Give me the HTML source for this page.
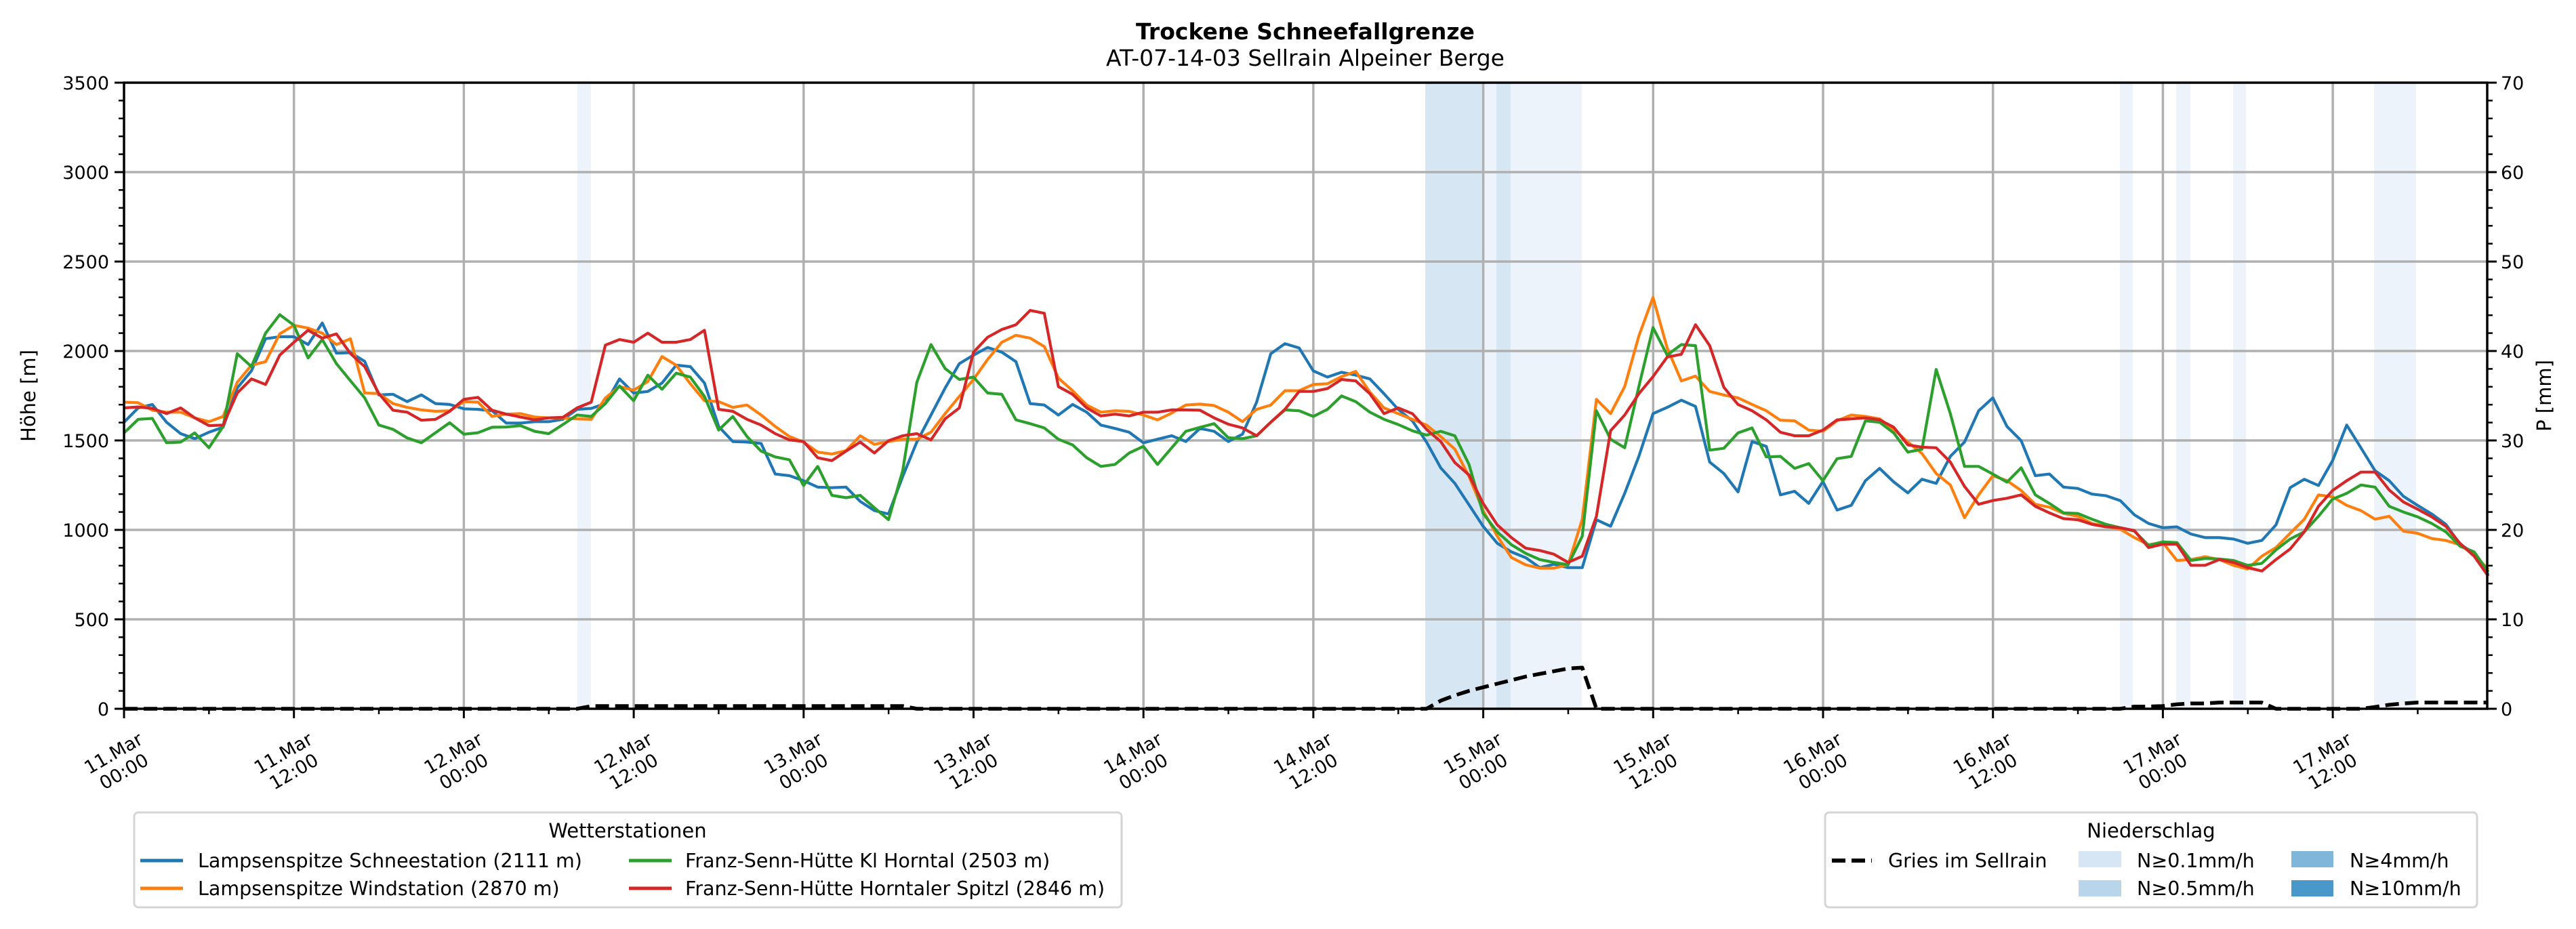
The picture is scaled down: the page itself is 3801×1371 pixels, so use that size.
<!DOCTYPE html>
<html><head><meta charset="utf-8">
<style>
html,body{margin:0;padding:0;background:#fff;}
svg{display:block;font-family:"DejaVu Sans","Liberation Sans",sans-serif;}
</style></head>
<body>
<svg id="s" width="3801" height="1371" viewBox="0 0 3801 1371" xmlns="http://www.w3.org/2000/svg">
<rect width="3801" height="1371" fill="#fff"/>
<g id="bands"></g>
<g id="grid" stroke="#b0b0b0" stroke-width="3.5"></g>
<g id="series" fill="none" stroke-linejoin="round"></g>
<g id="axes" stroke="#000"></g>
<g id="labels" font-size="27" fill="#000"></g>
<text x="1926" y="58" text-anchor="middle" font-size="33" font-weight="bold">Trockene Schneefallgrenze</text>
<text x="1926" y="97" text-anchor="middle" font-size="33">AT-07-14-03 Sellrain Alpeiner Berge</text>
<text transform="translate(52,584) rotate(-90)" text-anchor="middle" font-size="29">Höhe [m]</text>
<text transform="translate(3764,584) rotate(-90)" text-anchor="middle" font-size="29">P [mm]</text>

<!-- Legend 1 -->
<rect x="198" y="1199" width="1457" height="140" rx="6" fill="#fff" stroke="#d5d5d5" stroke-width="3"/>
<text x="926" y="1236" text-anchor="middle" font-size="29">Wetterstationen</text>
<line x1="207" y1="1270" x2="270" y2="1270" stroke="#1f77b4" stroke-width="5"/>
<text x="292" y="1280" font-size="28.5">Lampsenspitze Schneestation (2111 m)</text>
<line x1="207" y1="1311" x2="270" y2="1311" stroke="#ff7f0e" stroke-width="5"/>
<text x="292" y="1321" font-size="28.5">Lampsenspitze Windstation (2870 m)</text>
<line x1="928" y1="1270" x2="991" y2="1270" stroke="#2ca02c" stroke-width="5"/>
<text x="1011" y="1280" font-size="28.5">Franz-Senn-Hütte Kl Horntal (2503 m)</text>
<line x1="928" y1="1311" x2="991" y2="1311" stroke="#d62728" stroke-width="5"/>
<text x="1011" y="1321" font-size="28.5">Franz-Senn-Hütte Horntaler Spitzl (2846 m)</text>

<!-- Legend 2 -->
<rect x="2693" y="1199" width="962" height="140" rx="6" fill="#fff" stroke="#d5d5d5" stroke-width="3"/>
<text x="3174" y="1236" text-anchor="middle" font-size="29">Niederschlag</text>
<line x1="2703" y1="1270" x2="2762" y2="1270" stroke="#000" stroke-width="6" stroke-dasharray="20,9"/>
<text x="2786" y="1280" font-size="28.5">Gries im Sellrain</text>
<rect x="3067" y="1256" width="63" height="24" fill="#d6e6f4"/>
<text x="3153" y="1280" font-size="28.5">N≥0.1mm/h</text>
<rect x="3067" y="1299" width="63" height="24" fill="#b9d5ea"/>
<text x="3153" y="1321" font-size="28.5">N≥0.5mm/h</text>
<rect x="3381" y="1256" width="62" height="24" fill="#80b6da"/>
<text x="3467" y="1280" font-size="28.5">N≥4mm/h</text>
<rect x="3381" y="1299" width="62" height="24" fill="#4a98c9"/>
<text x="3467" y="1321" font-size="28.5">N≥10mm/h</text>
</svg>
<script>
(function(){
var NS="http://www.w3.org/2000/svg";
function el(p,t,a,txt){var e=document.createElementNS(NS,t);for(var k in a)e.setAttribute(k,a[k]);if(txt!=null)e.textContent=txt;document.getElementById(p).appendChild(e);return e;}
var L=183,R=3670,T=122,B=1046,HW=20.89;
function X(h){return L+h*HW;}
function Y(v){return B-v*0.264;}
function YP(mm){return B-mm*13.2;}
var bands=[[852,872,"#edf3fa"],[2103,2188,"#d6e6f3"],[2188,2208,"#edf3fa"],[2208,2229,"#d6e6f3"],[2229,2334,"#edf3fa"],[3128,3147,"#edf3fa"],[3211,3232,"#edf3fa"],[3295,3314,"#edf3fa"],[3503,3565,"#edf3fa"]];
bands.forEach(function(b){el("bands","rect",{x:b[0],y:T,width:b[1]-b[0],height:B-T,fill:b[2]});});
for(var i=1;i<=13;i++){var x=L+i*250.7;el("grid","line",{x1:x,y1:T,x2:x,y2:B});}
for(var v=500;v<3500;v+=500){var y=Y(v);el("grid","line",{x1:L,y1:y,x2:R,y2:y});}
var blue=[1602,1682,1701,1602,1538,1510,1546,1574,1793,1889,2069,2080,2080,2036,2157,1988,1991,1942,1754,1758,1717,1755,1706,1701,1677,1674,1666,1597,1597,1605,1605,1618,1674,1679,1706,1844,1765,1774,1821,1921,1913,1821,1578,1494,
1491,1483,1312,1303,1275,1239,1236,1239,1159,1108,1089,1299,1491,1642,1793,1929,1977,2020,1993,1940,1706,1698,1642,1701,1658,1586,1567,1546,1487,1507,1526,1494,1567,1551,1494,1535,1714,1985,2041,2017,1889,1854,
1881,1865,1844,1761,1674,1610,1491,1347,1260,1140,1020,925,877,845,789,808,789,789,1057,1020,1204,1411,1650,1685,1725,1690,1379,1315,1212,1494,1467,1196,1216,1148,1271,1111,1137,1275,1344,1268,1207,1283,1260,
1411,1491,1666,1738,1578,1499,1303,1312,1239,1232,1200,1191,1164,1084,1036,1012,1017,977,957,957,949,925,941,1028,1236,1283,1248,1387,1586,1459,1331,1275,1188,1137,1089,1031,920,869,749];
var orange=[1714,1711,1669,1658,1658,1626,1605,1634,1825,1921,1940,2096,2144,2128,2100,2036,2068,1765,1762,1706,1685,1671,1663,1666,1717,1714,1634,1647,1650,1631,1626,1626,1621,1618,1738,1801,1781,1829,1969,1921,1817,1722,1717,1685,
1698,1642,1578,1522,1491,1435,1424,1443,1526,1478,1494,1507,1507,1546,1650,1746,1841,1953,2049,2088,2072,2025,1849,1778,1698,1658,1666,1663,1642,1615,1653,1698,1703,1695,1658,1605,1674,1698,1778,1778,1813,1817,
1857,1886,1770,1682,1650,1618,1586,1522,1451,1299,1108,965,845,805,786,786,805,1060,1730,1650,1801,2084,2300,2017,1833,1860,1774,1754,1738,1701,1666,1613,1610,1558,1551,1610,1642,1634,1621,1562,1491,1427,1315,
1251,1068,1196,1303,1275,1220,1143,1127,1092,1076,1036,1020,1004,957,917,930,829,834,850,834,802,781,853,901,981,1060,1196,1185,1137,1108,1060,1076,993,981,952,941,917,860,780];
var green=[1542,1618,1623,1487,1491,1542,1459,1578,1985,1913,2100,2203,2144,1961,2064,1929,1833,1738,1586,1562,1514,1487,1543,1599,1535,1543,1574,1575,1583,1551,1538,1589,1642,1634,1706,1805,1722,1865,1786,1876,1854,1746,1558,1634,
1522,1440,1408,1392,1248,1355,1193,1180,1193,1124,1057,1331,1825,2036,1902,1841,1854,1765,1758,1615,1594,1570,1507,1475,1403,1355,1366,1430,1467,1366,1459,1551,1573,1594,1515,1510,1526,1602,1671,1666,1634,1674,
1749,1717,1658,1618,1589,1554,1530,1551,1526,1366,1092,989,917,869,834,818,805,965,1666,1507,1459,1801,2131,1977,2036,2030,1446,1456,1542,1570,1408,1411,1344,1371,1275,1398,1411,1610,1602,1542,1435,1451,1897,
1650,1355,1355,1312,1267,1347,1196,1148,1095,1092,1060,1031,1012,993,913,933,929,829,840,837,829,802,813,888,949,989,1076,1172,1204,1251,1239,1132,1100,1073,1036,989,909,877,765];
var red=[1682,1687,1679,1650,1682,1626,1583,1586,1765,1844,1813,1977,2049,2116,2072,2096,1985,1913,1762,1669,1658,1613,1618,1663,1730,1741,1669,1647,1631,1615,1626,1629,1682,1714,2033,2064,2049,2100,2049,2049,2064,2116,1674,1663,
1618,1586,1538,1503,1494,1403,1387,1440,1491,1430,1499,1526,1538,1503,1621,1682,1993,2077,2120,2147,2227,2211,1801,1758,1682,1637,1647,1637,1658,1658,1671,1671,1669,1626,1591,1570,1526,1602,1674,1774,1774,1790,
1841,1833,1761,1650,1682,1650,1562,1494,1376,1307,1148,1028,957,898,885,864,818,853,1076,1554,1642,1761,1857,1966,1982,2147,2030,1797,1701,1666,1615,1546,1526,1526,1558,1615,1621,1626,1615,1574,1475,1462,1459,
1379,1243,1143,1164,1177,1196,1132,1095,1063,1057,1031,1017,1012,996,901,920,920,802,802,834,818,789,770,834,893,989,1132,1220,1275,1323,1323,1223,1156,1116,1073,1020,925,853,741];
function poly(arr,col){var p=[];for(var h=0;h<arr.length;h++){p.push(X(h).toFixed(1)+","+Y(arr[h]).toFixed(1));}
el("series","polyline",{points:p.join(" "),stroke:col,"stroke-width":4.2});}
poly(blue,"#1f77b4");poly(orange,"#ff7f0e");poly(green,"#2ca02c");poly(red,"#d62728");
var pr=[];for(var h=0;h<=167;h++)pr.push(0);
for(h=33;h<=55;h++)pr[h]=0.3;
var seg={93:0.9,94:1.5,95:2.0,96:2.4,97:2.8,98:3.2,99:3.6,100:3.9,101:4.2,102:4.5,103:4.6,142:0.25,143:0.25,144:0.3,145:0.5,146:0.6,147:0.6,148:0.7,149:0.7,150:0.7,151:0.7,159:0.2,160:0.45,161:0.6,162:0.7,163:0.7,164:0.7,165:0.7,166:0.7,167:0.7};
for(var k in seg)pr[+k]=seg[k];
var pp=[];for(h=0;h<=167;h++)pp.push(X(h).toFixed(1)+","+YP(pr[h]).toFixed(1));
el("series","polyline",{points:pp.join(" "),stroke:"#000","stroke-width":5.5,"stroke-dasharray":"20,9"});
el("axes","rect",{x:L,y:T,width:R-L,height:B-T,fill:"none","stroke-width":3.5});
for(v=0;v<=3500;v+=100){var y=Y(v),maj=(v%500==0);el("axes","line",{x1:L,y1:y,x2:L-(maj?14:8),y2:y,"stroke-width":maj?3:2.5});
if(maj)el("labels","text",{x:L-22,y:y+10,"text-anchor":"end"},String(v));}
for(var mm=0;mm<=70;mm+=2){var y2=YP(mm),mj=(mm%10==0);el("axes","line",{x1:R,y1:y2,x2:R+(mj?14:8),y2:y2,"stroke-width":mj?3:2.5});
if(mj)el("labels","text",{x:R+20,y:y2+10,"text-anchor":"start"},String(mm));}
var days=["11","11","12","12","13","13","14","14","15","15","16","16","17","17"];
for(i=0;i<=27;i++){var x=L+i*125.35;if(x>R)break;var mj2=(i%2==0);el("axes","line",{x1:x,y1:B,x2:x,y2:B+(mj2?14:8),"stroke-width":mj2?3:2.5});}
for(i=0;i<14;i++){var x=L+i*250.7,cx=x-8,cy=1125;
var t=el("labels","text",{transform:"translate("+cx+","+cy+") rotate(-30)","text-anchor":"middle","font-size":"27"});
var a=document.createElementNS(NS,"tspan");a.setAttribute("x",0);a.setAttribute("y",-6);a.textContent=days[i]+".Mar";t.appendChild(a);
var b=document.createElementNS(NS,"tspan");b.setAttribute("x",0);b.setAttribute("y",25);b.textContent=(i%2==0)?"00:00":"12:00";t.appendChild(b);}
})();
</script>
</body></html>
